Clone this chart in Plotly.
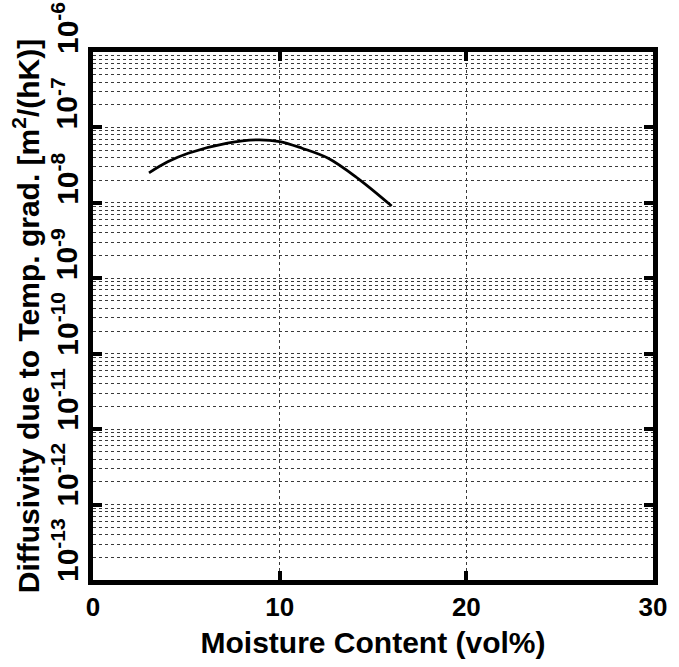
import plotly.graph_objects as go

moisture = [3.0, 4.0, 5.1, 7.2, 8.8, 10.0, 11.2, 12.6, 14.2, 16.0]
diffusivity = [2.5e-8, 3.5e-8, 4.55e-8, 6.2e-8, 6.85e-8, 6.5e-8, 5.3e-8, 3.9e-8, 2.1e-8, 9.1e-9]

x_ticks = [0, 10, 20, 30]
y_exps = [-13, -12, -11, -10, -9, -8, -7, -6]
y_ticks = [10.0 ** e for e in y_exps]
y_ticktext = ["<b>10<sup>%d</sup></b>" % e for e in y_exps]
minor_vals = [m * 10.0 ** e for e in y_exps[:-1] for m in range(2, 10)]

font_fam = "Liberation Sans, Arial, sans-serif"

fig = go.Figure()
fig.add_trace(go.Scatter(x=moisture, y=diffusivity, mode="lines",
                         line=dict(color="black", width=2.8, shape="spline"),
                         showlegend=False))

for e, txt in zip(y_exps, y_ticktext):
    fig.add_annotation(x=0, xref="paper", y=e, yref="y", text=txt,
                       textangle=-90, xanchor="right", yanchor="bottom",
                       xshift=-7, yshift=-4, showarrow=False,
                       font=dict(size=30, family=font_fam, color="black"))

grid_style = dict(gridcolor="#3a3a3a", griddash="dot", gridwidth=1)

fig.update_layout(
    width=679, height=667,
    margin=dict(l=93, r=15, t=52, b=87),
    paper_bgcolor="white", plot_bgcolor="white",
    font=dict(family=font_fam, color="black"),
    xaxis=dict(
        range=[0, 30], tickvals=x_ticks, ticks="inside", ticklen=9, tickwidth=4,
        tickcolor="black", showline=True, linewidth=5, linecolor="black", mirror="ticks",
        showgrid=True, zeroline=False, **grid_style,
        tickfont=dict(size=26, family=font_fam, weight="bold"),
        title=dict(text="<b>Moisture Content (vol%)</b>",
                   font=dict(size=30, family=font_fam), standoff=12),
    ),
    yaxis=dict(
        type="log", range=[-13, -6], tickvals=y_ticks, showticklabels=False,
        ticks="inside", ticklen=9, tickwidth=4, tickcolor="black",
        showline=True, linewidth=5, linecolor="black", mirror="ticks",
        showgrid=True, zeroline=False, **grid_style,
        minor=dict(tickmode="array", tickvals=minor_vals, showgrid=True, ticks="", **grid_style),
        title=dict(text="<b>Diffusivity due to Temp. grad. [m<sup>2</sup>/(hK)]</b>",
                   font=dict(size=30), standoff=41),
    ),
)

fig.write_html("out.html")
